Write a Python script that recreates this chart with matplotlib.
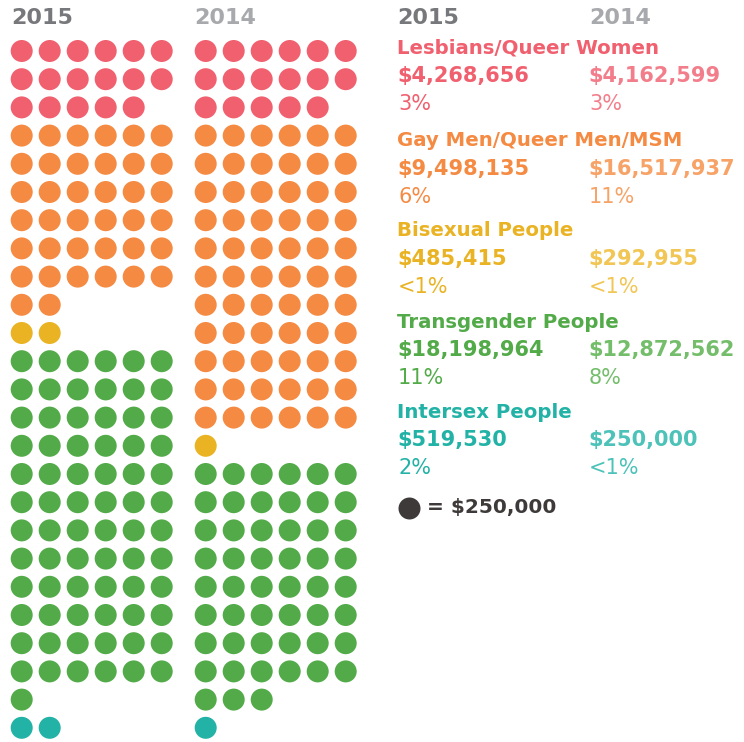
import matplotlib
matplotlib.use('agg')
import matplotlib.pyplot as plt  # noqa: E402

# data
years = ['2015', '2014']
categories = ['Lesbians/Queer Women', 'Gay Men/Queer Men/MSM', 'Bisexual People',
              'Transgender People', 'Intersex People']
dots_2015 = [17, 38, 2, 73, 2]
dots_2014 = [17, 66, 1, 51, 1]
amounts_2015 = ['$4,268,656', '$9,498,135', '$485,415', '$18,198,964', '$519,530']
amounts_2014 = ['$4,162,599', '$16,517,937', '$292,955', '$12,872,562', '$250,000']
pct_2015 = ['3%', '6%', '<1%', '11%', '2%']
pct_2014 = ['3%', '11%', '<1%', '8%', '<1%']
unit_label = '= $250,000'

colors = ['#F0606F', '#F58A42', '#E9B323', '#52AB48', '#22B2A6']
colors_light = ['#F37E8B', '#F7A267', '#F1C654', '#74BE6B', '#4CC2B8']
year_colors = ['#77787B', '#A7A9AC']

PER_ROW = 6
DX = 28.0
DY = 28.2
Y0 = 51.0


def grid(counts, x0):
    xs, ys, cs = [], [], []
    row = 0
    for n, c in zip(counts, colors):
        for i in range(n):
            xs.append(x0 + (i % PER_ROW) * DX)
            ys.append(Y0 + (row + i // PER_ROW) * DY)
            cs.append(c)
        row += (n + PER_ROW - 1) // PER_ROW
    return xs, ys, cs


fig = plt.figure(figsize=(7.44, 7.42), dpi=100)
ax = fig.add_axes([0, 0, 1, 1])
ax.set_xlim(0, 744)
ax.set_ylim(742, 0)
ax.axis('off')

dot_size = (22 * 72 / 100) ** 2
for counts, x0 in [(dots_2015, 21.7), (dots_2014, 205.7)]:
    xs, ys, cs = grid(counts, x0)
    ax.scatter(xs, ys, s=dot_size, c=cs, linewidths=0)

bold = dict(family='DejaVu Sans', fontweight='bold', va='center', ha='left')
reg = dict(family='DejaVu Sans', va='center', ha='left')

# year headers
ax.text(11, 18, years[0], color=year_colors[0], fontsize=16, **bold)
ax.text(194, 18, years[1], color=year_colors[1], fontsize=16, **bold)
ax.text(397, 18, years[0], color=year_colors[0], fontsize=16, **bold)
ax.text(589, 18, years[1], color=year_colors[1], fontsize=16, **bold)

# category blocks
block_y = [48, 141, 231, 322, 412]
for i, cat in enumerate(categories):
    y = block_y[i]
    ax.text(397, y, cat, color=colors[i], fontsize=14.2, **bold)
    ax.text(397, y + 28, amounts_2015[i], color=colors[i], fontsize=15, **bold)
    ax.text(588, y + 28, amounts_2014[i], color=colors_light[i], fontsize=15, **bold)
    ax.text(398, y + 56, pct_2015[i], color=colors[i], fontsize=15, **reg)
    ax.text(589, y + 56, pct_2014[i], color=colors_light[i], fontsize=15, **reg)

# legend
ax.scatter([409], [508], s=dot_size, c='#3E3A39', linewidths=0)
ax.text(427, 508, unit_label, color='#3E3A39', fontsize=14.5, **bold)

fig.savefig('out.png', dpi=100)
